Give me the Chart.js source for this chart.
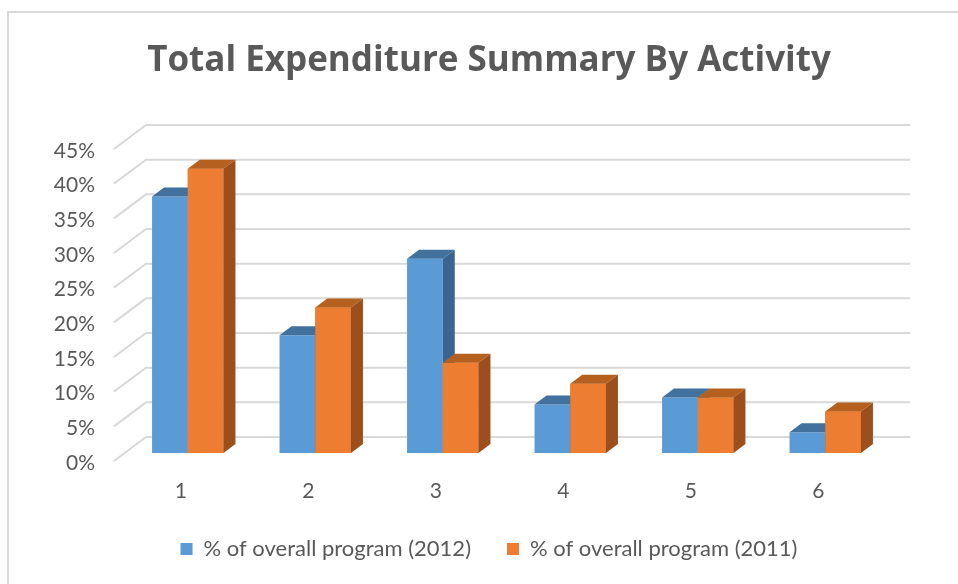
<!DOCTYPE html>
<html>
<head>
<meta charset="utf-8">
<script src="https://cdn.jsdelivr.net/npm/chart.js@4.4.0/dist/chart.umd.min.js"></script>
<style>
  html, body { margin: 0; padding: 0; background: #fff; }
  #wrap { width: 958px; height: 584px; }
</style>
</head>
<body>
<div id="wrap"><canvas id="myChart"></canvas></div>
<script>
const categories = ['1', '2', '3', '4', '5', '6'];
const share2012 = [37, 17, 28, 7, 8, 3];
const share2011 = [41, 21, 13, 10, 8, 6];
const seriesNames = ['% of overall program (2012)', '% of overall program (2011)'];
const yTicks = [0, 5, 10, 15, 20, 25, 30, 35, 40, 45];

const frontColors = ['#5b9bd5', '#ed7d31'];
const topColors = ['#41719c', '#b6601f'];
const sideColors = ['#3a6591', '#9c4f1c'];
const barDepth = { x: 12, y: 9 };
const gridColor = '#d9d9d9';

Chart.defaults.font.family = 'Lato, "Open Sans", sans-serif';
Chart.defaults.color = '#595959';

// fake 3d: back wall grid, bar tops and sides
const frame3d = {
  id: 'frame3d',
  beforeDraw(chart) {
    const ctx = chart.ctx;
    ctx.save();
    ctx.fillStyle = '#fff';
    ctx.fillRect(0, 0, chart.width, chart.height);
    ctx.strokeStyle = gridColor;
    ctx.lineWidth = 2;
    ctx.beginPath();
    ctx.moveTo(8, chart.height);
    ctx.lineTo(8, 12);
    ctx.lineTo(chart.width, 12);
    ctx.stroke();
    ctx.restore();
  },
  beforeDatasetsDraw(chart) {
    const ctx = chart.ctx;
    const yScale = chart.scales.y;
    ctx.save();
    ctx.strokeStyle = gridColor;
    ctx.lineWidth = 2;
    yTicks.forEach(v => {
      const y = yScale.getPixelForValue(v);
      ctx.beginPath();
      ctx.moveTo(114, y + 8);
      ctx.lineTo(146, y - 16);
      ctx.lineTo(910, y - 16);
      ctx.stroke();
    });
    ctx.restore();
  },
  afterDatasetsDraw(chart) {
    const ctx = chart.ctx;
    const metas = chart.data.datasets.map((d, i) => chart.getDatasetMeta(i));
    ctx.save();
    categories.forEach((c, i) => {
      metas.forEach((meta, d) => {
        const bar = meta.data[i];
        if (d > 0) bar.draw(ctx);
        const { x, y, base, width } = bar.getProps(['x', 'y', 'base', 'width'], true);
        const l = x - width / 2, r = x + width / 2;
        ctx.fillStyle = topColors[d];
        ctx.beginPath();
        ctx.moveTo(l, y);
        ctx.lineTo(l + barDepth.x, y - barDepth.y);
        ctx.lineTo(r + barDepth.x, y - barDepth.y);
        ctx.lineTo(r, y);
        ctx.closePath();
        ctx.fill();
        ctx.fillStyle = sideColors[d];
        ctx.beginPath();
        ctx.moveTo(r, y);
        ctx.lineTo(r + barDepth.x, y - barDepth.y);
        ctx.lineTo(r + barDepth.x, base - barDepth.y);
        ctx.lineTo(r, base);
        ctx.closePath();
        ctx.fill();
      });
    });
    ctx.restore();
  }
};

const ctx = document.getElementById('myChart').getContext('2d');
const chart = new Chart(ctx, {
  type: 'bar',
  data: {
    labels: categories,
    datasets: [
      { label: seriesNames[0], data: share2012, backgroundColor: frontColors[0] },
      { label: seriesNames[1], data: share2011, backgroundColor: frontColors[1] }
    ]
  },
  options: {
    responsive: true,
    maintainAspectRatio: false,
    animation: false,
    categoryPercentage: 0.56,
    barPercentage: 1,
    layout: { padding: { left: 20, right: 0, top: 0, bottom: 14 } },
    plugins: {
      title: {
        display: true,
        text: 'Total Expenditure Summary By Activity',
        font: { family: '"Open Sans", Lato, sans-serif', size: 35, weight: 'bold' },
        color: '#595959',
        padding: { top: 40, bottom: 59 }
      },
      legend: {
        position: 'bottom',
        labels: { boxWidth: 12, boxHeight: 12, font: { size: 22 }, padding: 36 }
      },
      tooltip: { enabled: false }
    },
    scales: {
      x: {
        grid: { display: false },
        border: { display: false },
        ticks: { font: { size: 21 }, padding: 18, labelOffset: -7 },
        afterFit: s => { s.height = 49; }
      },
      y: {
        min: 0,
        max: 45,
        grid: { display: false },
        border: { display: false },
        ticks: { stepSize: 5, font: { size: 21 }, padding: 21, labelOffset: 10, callback: v => v + '%' },
        afterFit: s => { s.width = 104; }
      },
      y2: {
        position: 'right',
        display: true,
        grid: { display: false },
        border: { display: false },
        ticks: { display: false },
        afterFit: s => { s.width = 69; }
      }
    }
  },
  plugins: [frame3d]
});
</script>
</body>
</html>
